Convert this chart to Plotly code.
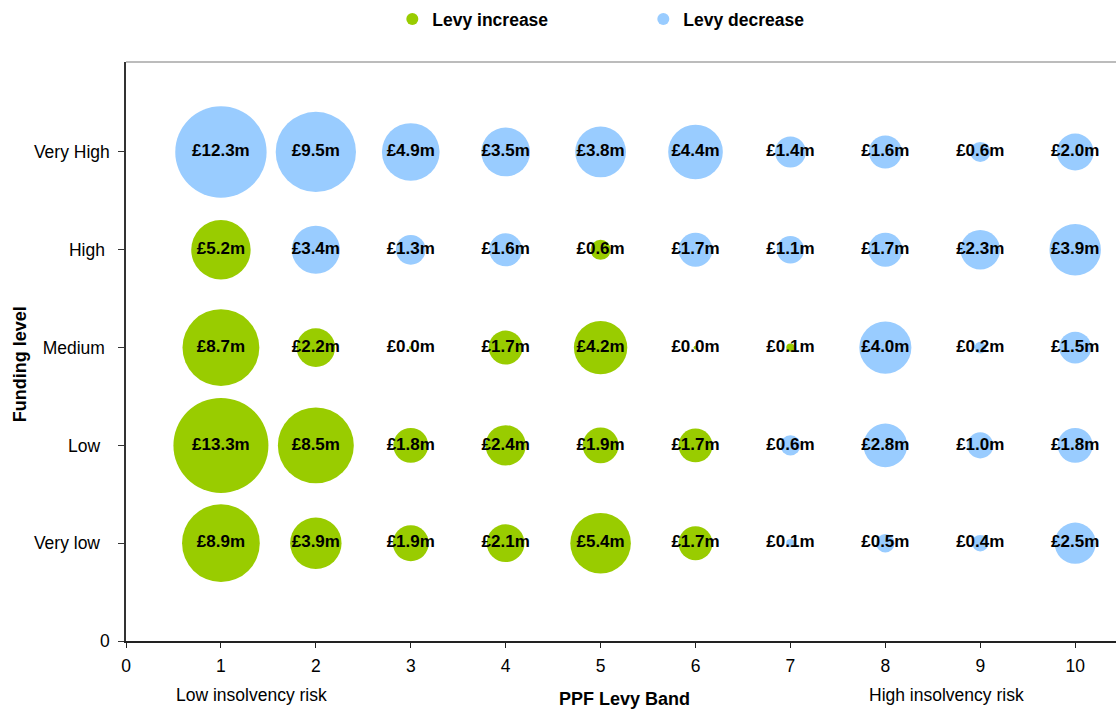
import numpy as np
import plotly.graph_objects as go

# PPF levy band (1 = low insolvency risk ... 10 = high insolvency risk)
bands = [1, 2, 3, 4, 5, 6, 7, 8, 9, 10]

# Funding levels, bottom to top, and their axis positions
levels = ["Very low", "Low", "Medium", "High", "Very High"]
level_pos = [1, 2, 3, 4, 5]

# Levy change in £m by funding level (positive = levy increase, negative = levy decrease)
very_low = [8.9, 3.9, 1.9, 2.1, 5.4, 1.7, -0.1, -0.5, -0.4, -2.5]
low = [13.3, 8.5, 1.8, 2.4, 1.9, 1.7, -0.6, -2.8, -1.0, -1.8]
medium = [8.7, 2.2, 0.02, 1.7, 4.2, 0.02, 0.1, -4.0, -0.2, -1.5]
high = [5.2, -3.4, -1.3, -1.6, 0.6, -1.7, -1.1, -1.7, -2.3, -3.9]
very_high = [-12.3, -9.5, -4.9, -3.5, -3.8, -4.4, -1.4, -1.6, -0.6, -2.0]

NB = "\u00a0"
y_ticks = [0, 1, 2, 3, 4, 5]
y_ticktext = ["0", "Very low" + NB * 2, "Low" + NB * 2, "Medium" + NB, "High" + NB, "Very High"]
x_ticks = [0, 1, 2, 3, 4, 5, 6, 7, 8, 9, 10]

GREEN = "#99CC00"
BLUE = "#99CCFF"
FONT = "Arial, Liberation Sans, sans-serif"

rows = [very_low, low, medium, high, very_high]
xs, ys, vals = [], [], []
for lvl, row in zip(level_pos, rows):
    for b, v in zip(bands, row):
        xs.append(b)
        ys.append(lvl)
        vals.append(v)
xs, ys, vals = np.array(xs), np.array(ys), np.array(vals)

# bubble area proportional to the size of the change
MAX_DIAM = 95.0
diam = MAX_DIAM * np.sqrt(np.abs(vals) / np.abs(vals).max())

inc = vals > 0
dec = vals < 0

fig = go.Figure()
fig.add_trace(go.Scatter(
    x=xs[inc], y=ys[inc], mode="markers", name="Levy increase",
    marker=dict(size=diam[inc], sizemode="diameter", color=GREEN, line=dict(width=0), opacity=1),
))
fig.add_trace(go.Scatter(
    x=xs[dec], y=ys[dec], mode="markers", name="Levy decrease",
    marker=dict(size=diam[dec], sizemode="diameter", color=BLUE, line=dict(width=0), opacity=1),
))
fig.add_trace(go.Scatter(
    x=xs, y=ys, mode="text", showlegend=False, hoverinfo="skip",
    text=["£%.1fm" % abs(v) for v in vals],
    textposition="middle center",
    textfont=dict(family=FONT, size=17, color="black", weight="bold"),
))

fig.update_layout(
    width=1116, height=709,
    margin=dict(l=126, r=0, t=62, b=68),
    plot_bgcolor="white", paper_bgcolor="white",
    font=dict(family=FONT, size=17.5, color="black"),
    showlegend=True,
    legend=dict(
        orientation="h", x=0.269, xanchor="left", y=1.074, yanchor="middle",
        font=dict(family=FONT, size=17.5, color="black", weight="bold"),
        itemsizing="constant", entrywidth=206, entrywidthmode="pixels",
        bgcolor="rgba(0,0,0,0)",
    ),
    xaxis=dict(
        range=[0, 10.43], tickvals=x_ticks, showgrid=False, zeroline=False,
        showline=True, linecolor="#222", linewidth=1.5,
        ticks="outside", ticklen=5, tickcolor="#222", ticklabelstandoff=3,
        tickfont=dict(family=FONT, size=17.5, color="black"),
    ),
    yaxis=dict(
        range=[0, 5.92], tickvals=y_ticks, ticktext=y_ticktext,
        showgrid=False, zeroline=False,
        showline=True, linecolor="#333", linewidth=1.5,
        ticks="outside", ticklen=6, tickcolor="#333", ticklabelstandoff=5,
        tickfont=dict(family=FONT, size=17.5, color="black"),
    ),
    shapes=[dict(type="line", xref="paper", yref="paper", x0=0, x1=1, y0=1, y1=1,
                 line=dict(color="#A6A6A6", width=1.5))],
    annotations=[
        dict(text="Low insolvency risk", x=1.32, xref="x", y=0, yref="paper",
             yshift=-54, yanchor="middle", showarrow=False,
             font=dict(family=FONT, size=17.5, color="black")),
        dict(text="High insolvency risk", x=8.64, xref="x", y=0, yref="paper",
             yshift=-54, yanchor="middle", showarrow=False,
             font=dict(family=FONT, size=17.5, color="black")),
        dict(text="<b>PPF Levy Band</b>", x=5.25, xref="x", y=0, yref="paper",
             yshift=-58, yanchor="middle", showarrow=False,
             font=dict(family=FONT, size=18, color="black")),
        dict(text="<b>Funding level</b>", x=0, xref="paper", xshift=-106,
             y=0.478, yref="paper", textangle=-90, showarrow=False,
             xanchor="center", yanchor="middle",
             font=dict(family=FONT, size=18, color="black")),
    ],
)

fig.write_html("out.html")
